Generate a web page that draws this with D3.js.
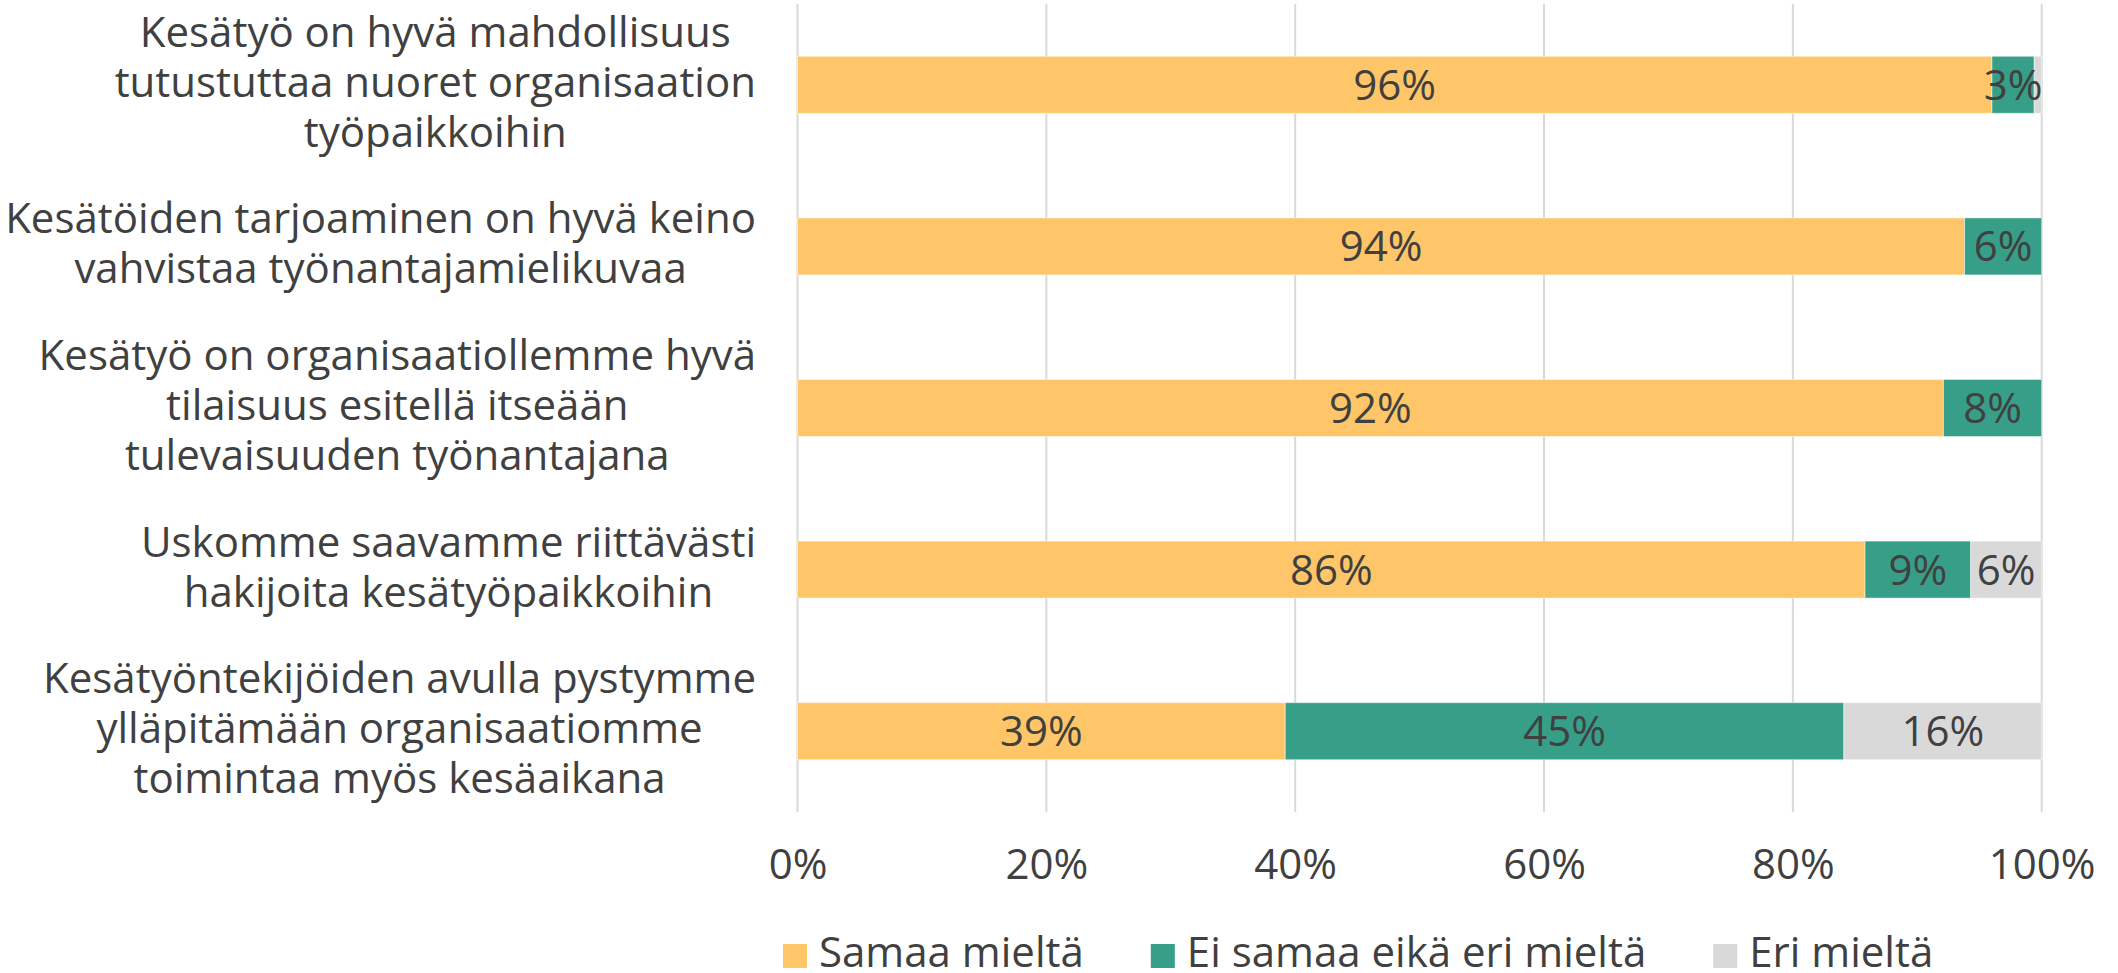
<!DOCTYPE html>
<html>
<head>
<meta charset="utf-8">
<script src="https://cdn.jsdelivr.net/npm/d3@7"></script>
<style>
  body { margin: 0; background: #fff; }
  svg text { font-family: "Open Sans", "Noto Sans", sans-serif; fill: #404040; }
</style>
</head>
<body>
<svg id="chart" width="2118" height="973"></svg>
<script>
// statements, wrapped the way the chart wraps them
var categories = [
  "Kesätyö on hyvä mahdollisuus|tutustuttaa nuoret organisaation|työpaikkoihin",
  "Kesätöiden tarjoaminen on hyvä keino|vahvistaa työnantajamielikuvaa",
  "Kesätyö on organisaatiollemme hyvä|tilaisuus esitellä itseään|tulevaisuuden työnantajana",
  "Uskomme saavamme riittävästi|hakijoita kesätyöpaikkoihin",
  "Kesätyöntekijöiden avulla pystymme|ylläpitämään organisaatiomme|toimintaa myös kesäaikana"
];
var seriesNames = ["Samaa mieltä", "Ei samaa eikä eri mieltä", "Eri mieltä"];
var samaa = [96.0, 93.8, 92.1, 85.8, 39.2];
var eiSamaaEiEri = [3.4, 6.2, 7.9, 8.5, 44.9];
var eri = [0.6, 0.0, 0.0, 5.7, 15.9];
var ticks = [0, 20, 40, 60, 80, 100];
var colors = ["#FEC668", "#379E87", "#D9D9D9"];

var svg = d3.select("#chart");

var x = d3.scaleLinear().domain([0, 100]).range([797.5, 2041.7]);
var y = d3.scaleBand().domain(d3.range(categories.length))
    .range([4, 812]).paddingInner(0.647).paddingOuter(0.3235);

/** gridlines */
svg.append("g").selectAll("line")
  .data(ticks)
  .enter().append("line")
    .attr("x1", d => x(d)).attr("x2", d => x(d))
    .attr("y1", 4).attr("y2", 812)
    .style("stroke", "#D9D9D9")
    .style("stroke-width", 2);

/** tick labels, drawn from the axis */
var axis = svg.append("g")
    .attr("transform", "translate(0,812)")
    .call(d3.axisBottom(x).tickValues(ticks).tickFormat(d => d + "%").tickSize(0).tickPadding(0));
axis.select(".domain").remove();
axis.selectAll("text")
    .attr("y", 67).attr("dy", null)
    .style("font-size", "42px")
    .attr("font-family", null);

/** stack the three series per row */
var rows = categories.map((c, i) => ({ i: i, v: [samaa[i], eiSamaaEiEri[i], eri[i]] }));
var segs = [];
rows.forEach(r => {
  var acc = 0;
  r.v.forEach((v, k) => { segs.push({ row: r.i, k: k, x0: acc, x1: acc + v, v: v }); acc += v; });
});

svg.append("g").selectAll("rect")
  .data(segs.filter(d => d.v > 0))
  .enter().append("rect")
    .attr("x", d => x(d.x0))
    .attr("y", d => y(d.row))
    .attr("width", d => x(d.x1) - x(d.x0))
    .attr("height", y.bandwidth())
    .style("fill", d => colors[d.k])
    .style("stroke", "#fff")
    .style("stroke-opacity", 0.5)
    .style("stroke-width", 1);

svg.append("g").selectAll("text")
  .data(segs.filter(d => d.v >= 2))
  .enter().append("text")
    .attr("x", d => (x(d.x0) + x(d.x1)) / 2)
    .attr("y", d => y(d.row) + y.bandwidth() / 2 + 15)
    .attr("text-anchor", "middle")
    .style("font-size", "42px")
    .text(d => Math.round(d.v) + "%");

/** category labels: centred block, right edge against the plot */
var labelRight = 756, lineGap = 50;
categories.forEach((c, i) => {
  var lines = c.split("|");
  var cy = y(i) + y.bandwidth() / 2;
  var t = svg.append("g");
  var txts = lines.map((ln, j) => t.append("text")
      .attr("y", cy + 12 + (j - (lines.length - 1) / 2) * lineGap)
      .attr("text-anchor", "middle")
      .style("font-size", "42px")
      .text(ln));
  var w = d3.max(txts, s => s.node().getComputedTextLength());
  txts.forEach(s => s.attr("x", labelRight - w / 2));
});

/** legend */
var lx = 783;
var legend = svg.append("g");
seriesNames.forEach((n, k) => {
  legend.append("rect")
    .attr("x", lx).attr("y", 944).attr("width", 24).attr("height", 24)
    .style("fill", colors[k]);
  var tx = legend.append("text")
    .attr("x", lx + 36).attr("y", 967)
    .style("font-size", "42px")
    .text(n);
  lx += 36 + tx.node().getComputedTextLength() + 67;
});
</script>
</body>
</html>
